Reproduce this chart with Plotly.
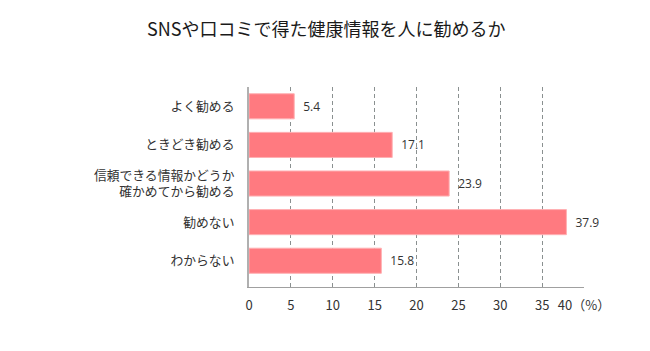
import plotly.graph_objects as go

categories = ["よく勧める", "ときどき勧める", "信頼できる情報かどうか<br>確かめてから勧める", "勧めない", "わからない"]
values = [5.4, 17.1, 23.9, 37.9, 15.8]
tick_vals = [0, 5, 10, 15, 20, 25, 30, 35, 40]
tick_text = ["0", "5", "10", "15", "20", "25", "30", "35", "40（%）"]
title_text = "SNSや口コミで得た健康情報を人に勧めるか"

FONT = "Noto Sans CJK JP"

fig = go.Figure(go.Bar(
    x=values,
    y=list(range(len(categories))),
    orientation="h",
    width=0.65,
    marker=dict(color="#ff7a80", line=dict(color="#ffb0b3", width=1)),
    text=["\u2002" + f"{v:.1f}" for v in values],
    textposition="outside",
    textfont=dict(family="Open Sans", size=12, color="#333333"),
    cliponaxis=False,
))

fig.update_layout(
    width=650, height=351,
    margin=dict(l=249, r=66, t=87, b=64),
    paper_bgcolor="white", plot_bgcolor="white",
    showlegend=False,
    title=dict(text=title_text, x=0.502, xanchor="center", xref="container",
               y=1 - 30 / 351, yref="container", yanchor="middle",
               font=dict(family=FONT, size=18, color="#1a1a1a")),
    font=dict(family=FONT),
)

fig.update_xaxes(
    range=[0, 40], tickvals=tick_vals, ticktext=tick_text,
    showgrid=True, gridcolor="#8a9090", griddash="4px,3px", gridwidth=1,
    zeroline=False, showline=True, linecolor="#a0a0a0", linewidth=1,
    ticks="", ticklabelstandoff=6,
    tickfont=dict(family=FONT, size=13, color="#333333"),
    fixedrange=True,
)

fig.update_yaxes(
    range=[4.68, -0.5], tickvals=list(range(len(categories))), ticktext=categories,
    showgrid=False, zeroline=False, showline=True, linecolor="#b0b0b0", linewidth=2,
    ticks="", ticklabelstandoff=10,
    tickfont=dict(family=FONT, size=12.8, color="#333333"),
    fixedrange=True,
)

fig.write_html("out.html")
